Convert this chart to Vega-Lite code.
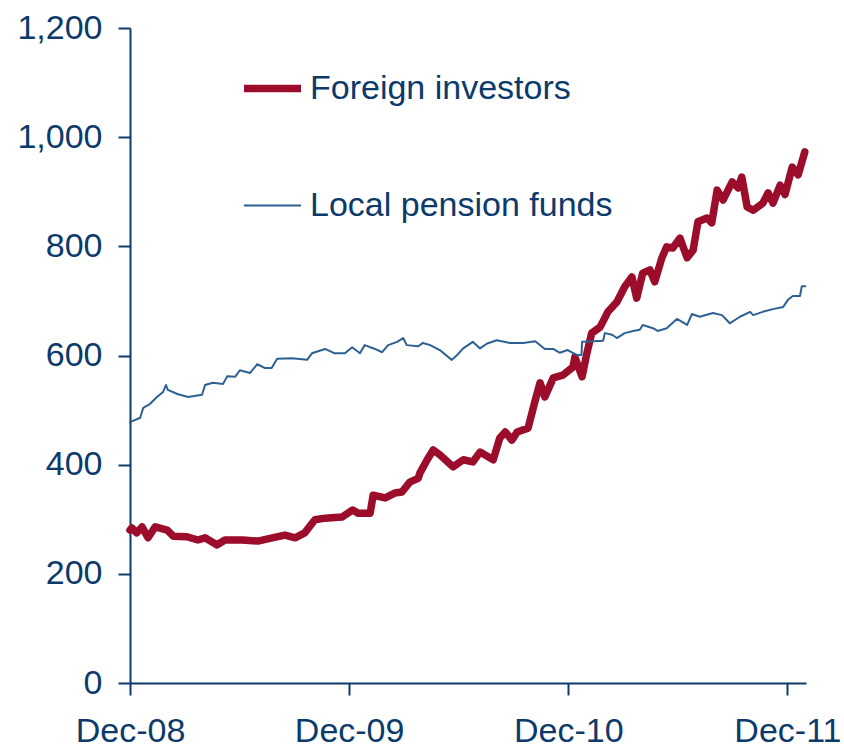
{
  "$schema": "https://vega.github.io/schema/vega-lite/v6.json",
  "width": 676,
  "height": 655,
  "autosize": {"type": "none"},
  "padding": {"left": 130, "top": 28, "right": 38, "bottom": 66},
  "background": "white",
  "config": {
    "view": {"stroke": null},
    "font": "Liberation Sans",
    "axis": {
      "domainColor": "#0b3a6b",
      "domainWidth": 2,
      "tickColor": "#0b3a6b",
      "tickWidth": 2,
      "tickSize": 12,
      "labelColor": "#0b3a6b",
      "labelFont": "Liberation Sans",
      "labelFontSize": 34,
      "grid": false,
      "title": null
    }
  },
  "data": {
    "format": {"parse": {"date": "date:'%Y-%m-%d'"}},
    "values": [
      {"date": "2008-12-01", "series": "Foreign investors", "value": 280},
      {"date": "2008-12-04", "series": "Foreign investors", "value": 284},
      {"date": "2008-12-12", "series": "Foreign investors", "value": 275},
      {"date": "2008-12-21", "series": "Foreign investors", "value": 286},
      {"date": "2008-12-31", "series": "Foreign investors", "value": 266},
      {"date": "2009-01-12", "series": "Foreign investors", "value": 286},
      {"date": "2009-02-01", "series": "Foreign investors", "value": 280},
      {"date": "2009-02-11", "series": "Foreign investors", "value": 269},
      {"date": "2009-03-06", "series": "Foreign investors", "value": 268},
      {"date": "2009-03-24", "series": "Foreign investors", "value": 262},
      {"date": "2009-04-05", "series": "Foreign investors", "value": 266},
      {"date": "2009-04-25", "series": "Foreign investors", "value": 253},
      {"date": "2009-05-08", "series": "Foreign investors", "value": 262},
      {"date": "2009-06-06", "series": "Foreign investors", "value": 262},
      {"date": "2009-07-02", "series": "Foreign investors", "value": 260},
      {"date": "2009-07-26", "series": "Foreign investors", "value": 266},
      {"date": "2009-08-16", "series": "Foreign investors", "value": 271},
      {"date": "2009-09-02", "series": "Foreign investors", "value": 266},
      {"date": "2009-09-18", "series": "Foreign investors", "value": 275},
      {"date": "2009-10-05", "series": "Foreign investors", "value": 299},
      {"date": "2009-10-22", "series": "Foreign investors", "value": 302},
      {"date": "2009-11-19", "series": "Foreign investors", "value": 304},
      {"date": "2009-12-07", "series": "Foreign investors", "value": 317},
      {"date": "2009-12-16", "series": "Foreign investors", "value": 311},
      {"date": "2010-01-05", "series": "Foreign investors", "value": 311},
      {"date": "2010-01-10", "series": "Foreign investors", "value": 344},
      {"date": "2010-01-30", "series": "Foreign investors", "value": 339},
      {"date": "2010-02-15", "series": "Foreign investors", "value": 348},
      {"date": "2010-02-27", "series": "Foreign investors", "value": 350},
      {"date": "2010-03-12", "series": "Foreign investors", "value": 368},
      {"date": "2010-03-26", "series": "Foreign investors", "value": 375},
      {"date": "2010-03-29", "series": "Foreign investors", "value": 385},
      {"date": "2010-04-10", "series": "Foreign investors", "value": 409},
      {"date": "2010-04-20", "series": "Foreign investors", "value": 427},
      {"date": "2010-05-01", "series": "Foreign investors", "value": 418},
      {"date": "2010-05-23", "series": "Foreign investors", "value": 396},
      {"date": "2010-06-09", "series": "Foreign investors", "value": 409},
      {"date": "2010-06-25", "series": "Foreign investors", "value": 405},
      {"date": "2010-07-07", "series": "Foreign investors", "value": 423},
      {"date": "2010-07-29", "series": "Foreign investors", "value": 409},
      {"date": "2010-08-09", "series": "Foreign investors", "value": 449},
      {"date": "2010-08-18", "series": "Foreign investors", "value": 460},
      {"date": "2010-08-29", "series": "Foreign investors", "value": 445},
      {"date": "2010-09-07", "series": "Foreign investors", "value": 460},
      {"date": "2010-09-25", "series": "Foreign investors", "value": 467},
      {"date": "2010-10-07", "series": "Foreign investors", "value": 518},
      {"date": "2010-10-15", "series": "Foreign investors", "value": 550},
      {"date": "2010-10-23", "series": "Foreign investors", "value": 524},
      {"date": "2010-11-06", "series": "Foreign investors", "value": 559},
      {"date": "2010-11-22", "series": "Foreign investors", "value": 564},
      {"date": "2010-12-09", "series": "Foreign investors", "value": 579},
      {"date": "2010-12-12", "series": "Foreign investors", "value": 597},
      {"date": "2010-12-24", "series": "Foreign investors", "value": 561},
      {"date": "2011-01-01", "series": "Foreign investors", "value": 604},
      {"date": "2011-01-09", "series": "Foreign investors", "value": 641},
      {"date": "2011-01-23", "series": "Foreign investors", "value": 652},
      {"date": "2011-02-05", "series": "Foreign investors", "value": 680},
      {"date": "2011-02-20", "series": "Foreign investors", "value": 698},
      {"date": "2011-03-05", "series": "Foreign investors", "value": 726},
      {"date": "2011-03-17", "series": "Foreign investors", "value": 744},
      {"date": "2011-03-25", "series": "Foreign investors", "value": 705},
      {"date": "2011-04-04", "series": "Foreign investors", "value": 751},
      {"date": "2011-04-16", "series": "Foreign investors", "value": 757},
      {"date": "2011-04-24", "series": "Foreign investors", "value": 735},
      {"date": "2011-05-06", "series": "Foreign investors", "value": 779},
      {"date": "2011-05-14", "series": "Foreign investors", "value": 799},
      {"date": "2011-05-24", "series": "Foreign investors", "value": 797},
      {"date": "2011-06-05", "series": "Foreign investors", "value": 815},
      {"date": "2011-06-17", "series": "Foreign investors", "value": 779},
      {"date": "2011-06-27", "series": "Foreign investors", "value": 793},
      {"date": "2011-07-05", "series": "Foreign investors", "value": 845},
      {"date": "2011-07-20", "series": "Foreign investors", "value": 852},
      {"date": "2011-07-28", "series": "Foreign investors", "value": 843},
      {"date": "2011-08-06", "series": "Foreign investors", "value": 903},
      {"date": "2011-08-16", "series": "Foreign investors", "value": 885},
      {"date": "2011-08-31", "series": "Foreign investors", "value": 918},
      {"date": "2011-09-10", "series": "Foreign investors", "value": 907},
      {"date": "2011-09-16", "series": "Foreign investors", "value": 927},
      {"date": "2011-09-25", "series": "Foreign investors", "value": 872},
      {"date": "2011-10-05", "series": "Foreign investors", "value": 866},
      {"date": "2011-10-21", "series": "Foreign investors", "value": 879},
      {"date": "2011-10-30", "series": "Foreign investors", "value": 898},
      {"date": "2011-11-07", "series": "Foreign investors", "value": 879},
      {"date": "2011-11-19", "series": "Foreign investors", "value": 912},
      {"date": "2011-11-27", "series": "Foreign investors", "value": 895},
      {"date": "2011-12-09", "series": "Foreign investors", "value": 945},
      {"date": "2011-12-19", "series": "Foreign investors", "value": 931},
      {"date": "2011-12-30", "series": "Foreign investors", "value": 973},
      {"date": "2008-12-01", "series": "Local pension funds", "value": 478},
      {"date": "2008-12-18", "series": "Local pension funds", "value": 486},
      {"date": "2008-12-23", "series": "Local pension funds", "value": 504},
      {"date": "2009-01-03", "series": "Local pension funds", "value": 511},
      {"date": "2009-01-15", "series": "Local pension funds", "value": 524},
      {"date": "2009-01-25", "series": "Local pension funds", "value": 533},
      {"date": "2009-01-30", "series": "Local pension funds", "value": 546},
      {"date": "2009-02-02", "series": "Local pension funds", "value": 537},
      {"date": "2009-02-19", "series": "Local pension funds", "value": 529},
      {"date": "2009-03-08", "series": "Local pension funds", "value": 524},
      {"date": "2009-03-31", "series": "Local pension funds", "value": 528},
      {"date": "2009-04-05", "series": "Local pension funds", "value": 546},
      {"date": "2009-04-18", "series": "Local pension funds", "value": 550},
      {"date": "2009-05-05", "series": "Local pension funds", "value": 548},
      {"date": "2009-05-12", "series": "Local pension funds", "value": 562},
      {"date": "2009-05-25", "series": "Local pension funds", "value": 561},
      {"date": "2009-06-02", "series": "Local pension funds", "value": 573},
      {"date": "2009-06-19", "series": "Local pension funds", "value": 568},
      {"date": "2009-07-01", "series": "Local pension funds", "value": 584},
      {"date": "2009-07-14", "series": "Local pension funds", "value": 577},
      {"date": "2009-07-25", "series": "Local pension funds", "value": 577},
      {"date": "2009-08-03", "series": "Local pension funds", "value": 594},
      {"date": "2009-08-28", "series": "Local pension funds", "value": 595},
      {"date": "2009-09-22", "series": "Local pension funds", "value": 592},
      {"date": "2009-09-30", "series": "Local pension funds", "value": 604},
      {"date": "2009-10-22", "series": "Local pension funds", "value": 612},
      {"date": "2009-11-07", "series": "Local pension funds", "value": 604},
      {"date": "2009-11-24", "series": "Local pension funds", "value": 604},
      {"date": "2009-12-06", "series": "Local pension funds", "value": 615},
      {"date": "2009-12-19", "series": "Local pension funds", "value": 604},
      {"date": "2009-12-27", "series": "Local pension funds", "value": 619},
      {"date": "2010-01-13", "series": "Local pension funds", "value": 612},
      {"date": "2010-01-25", "series": "Local pension funds", "value": 606},
      {"date": "2010-02-04", "series": "Local pension funds", "value": 619},
      {"date": "2010-02-19", "series": "Local pension funds", "value": 625},
      {"date": "2010-03-01", "series": "Local pension funds", "value": 632},
      {"date": "2010-03-07", "series": "Local pension funds", "value": 619},
      {"date": "2010-03-26", "series": "Local pension funds", "value": 617},
      {"date": "2010-04-03", "series": "Local pension funds", "value": 623},
      {"date": "2010-04-15", "series": "Local pension funds", "value": 619},
      {"date": "2010-05-01", "series": "Local pension funds", "value": 610},
      {"date": "2010-05-21", "series": "Local pension funds", "value": 592},
      {"date": "2010-05-30", "series": "Local pension funds", "value": 601},
      {"date": "2010-06-09", "series": "Local pension funds", "value": 613},
      {"date": "2010-06-25", "series": "Local pension funds", "value": 625},
      {"date": "2010-07-07", "series": "Local pension funds", "value": 613},
      {"date": "2010-07-19", "series": "Local pension funds", "value": 622},
      {"date": "2010-08-04", "series": "Local pension funds", "value": 628},
      {"date": "2010-08-26", "series": "Local pension funds", "value": 623},
      {"date": "2010-09-17", "series": "Local pension funds", "value": 623},
      {"date": "2010-10-07", "series": "Local pension funds", "value": 626},
      {"date": "2010-10-23", "series": "Local pension funds", "value": 612},
      {"date": "2010-11-06", "series": "Local pension funds", "value": 612},
      {"date": "2010-11-17", "series": "Local pension funds", "value": 605},
      {"date": "2010-11-30", "series": "Local pension funds", "value": 610},
      {"date": "2010-12-15", "series": "Local pension funds", "value": 601},
      {"date": "2010-12-23", "series": "Local pension funds", "value": 601},
      {"date": "2010-12-24", "series": "Local pension funds", "value": 625},
      {"date": "2011-01-11", "series": "Local pension funds", "value": 626},
      {"date": "2011-01-28", "series": "Local pension funds", "value": 627},
      {"date": "2011-01-31", "series": "Local pension funds", "value": 641},
      {"date": "2011-02-12", "series": "Local pension funds", "value": 638},
      {"date": "2011-02-20", "series": "Local pension funds", "value": 632},
      {"date": "2011-03-05", "series": "Local pension funds", "value": 641},
      {"date": "2011-03-19", "series": "Local pension funds", "value": 645},
      {"date": "2011-03-30", "series": "Local pension funds", "value": 647},
      {"date": "2011-04-04", "series": "Local pension funds", "value": 656},
      {"date": "2011-04-21", "series": "Local pension funds", "value": 650},
      {"date": "2011-04-29", "series": "Local pension funds", "value": 645},
      {"date": "2011-05-14", "series": "Local pension funds", "value": 650},
      {"date": "2011-05-31", "series": "Local pension funds", "value": 667},
      {"date": "2011-06-17", "series": "Local pension funds", "value": 656},
      {"date": "2011-06-25", "series": "Local pension funds", "value": 676},
      {"date": "2011-07-08", "series": "Local pension funds", "value": 671},
      {"date": "2011-07-30", "series": "Local pension funds", "value": 678},
      {"date": "2011-08-14", "series": "Local pension funds", "value": 674},
      {"date": "2011-08-27", "series": "Local pension funds", "value": 659},
      {"date": "2011-09-13", "series": "Local pension funds", "value": 671},
      {"date": "2011-09-30", "series": "Local pension funds", "value": 680},
      {"date": "2011-10-05", "series": "Local pension funds", "value": 674},
      {"date": "2011-10-21", "series": "Local pension funds", "value": 680},
      {"date": "2011-11-07", "series": "Local pension funds", "value": 685},
      {"date": "2011-11-24", "series": "Local pension funds", "value": 689},
      {"date": "2011-12-02", "series": "Local pension funds", "value": 702},
      {"date": "2011-12-10", "series": "Local pension funds", "value": 709},
      {"date": "2011-12-22", "series": "Local pension funds", "value": 709},
      {"date": "2011-12-25", "series": "Local pension funds", "value": 727},
      {"date": "2011-12-31", "series": "Local pension funds", "value": 727}
    ]
  },
  "mark": {"type": "line", "strokeCap": "round", "strokeJoin": "round"},
  "encoding": {
    "x": {
      "field": "date",
      "type": "temporal",
      "scale": {"domain": [{"year": 2008, "month": 12, "date": 1}, {"year": 2012, "month": 1, "date": 1}]},
      "axis": {
        "values": [
          {"year": 2008, "month": 12, "date": 1},
          {"year": 2009, "month": 12, "date": 1},
          {"year": 2010, "month": 12, "date": 1},
          {"year": 2011, "month": 12, "date": 1}
        ],
        "format": "%b-%y",
        "labelPadding": 19,
        "labelOverlap": false,
        "labelFlush": false
      }
    },
    "y": {
      "field": "value",
      "type": "quantitative",
      "scale": {"domain": [0, 1200], "nice": false},
      "axis": {"values": [0, 200, 400, 600, 800, 1000, 1200], "format": ",d", "labelPadding": 16}
    },
    "color": {
      "field": "series",
      "type": "nominal",
      "scale": {"domain": ["Foreign investors", "Local pension funds"], "range": ["#9b0d2b", "#2e6193"]},
      "legend": {
        "orient": "none",
        "legendX": 110,
        "legendY": 28,
        "title": null,
        "symbolType": "stroke",
        "symbolSize": 3249,
        "labelFontSize": 34,
        "labelFont": "Liberation Sans",
        "labelColor": "#0b3a6b",
        "labelLimit": 600,
        "labelOffset": 5,
        "rowPadding": 70
      }
    },
    "strokeWidth": {
      "field": "series",
      "type": "nominal",
      "scale": {"domain": ["Foreign investors", "Local pension funds"], "range": [7.5, 2]}
    }
  }
}
